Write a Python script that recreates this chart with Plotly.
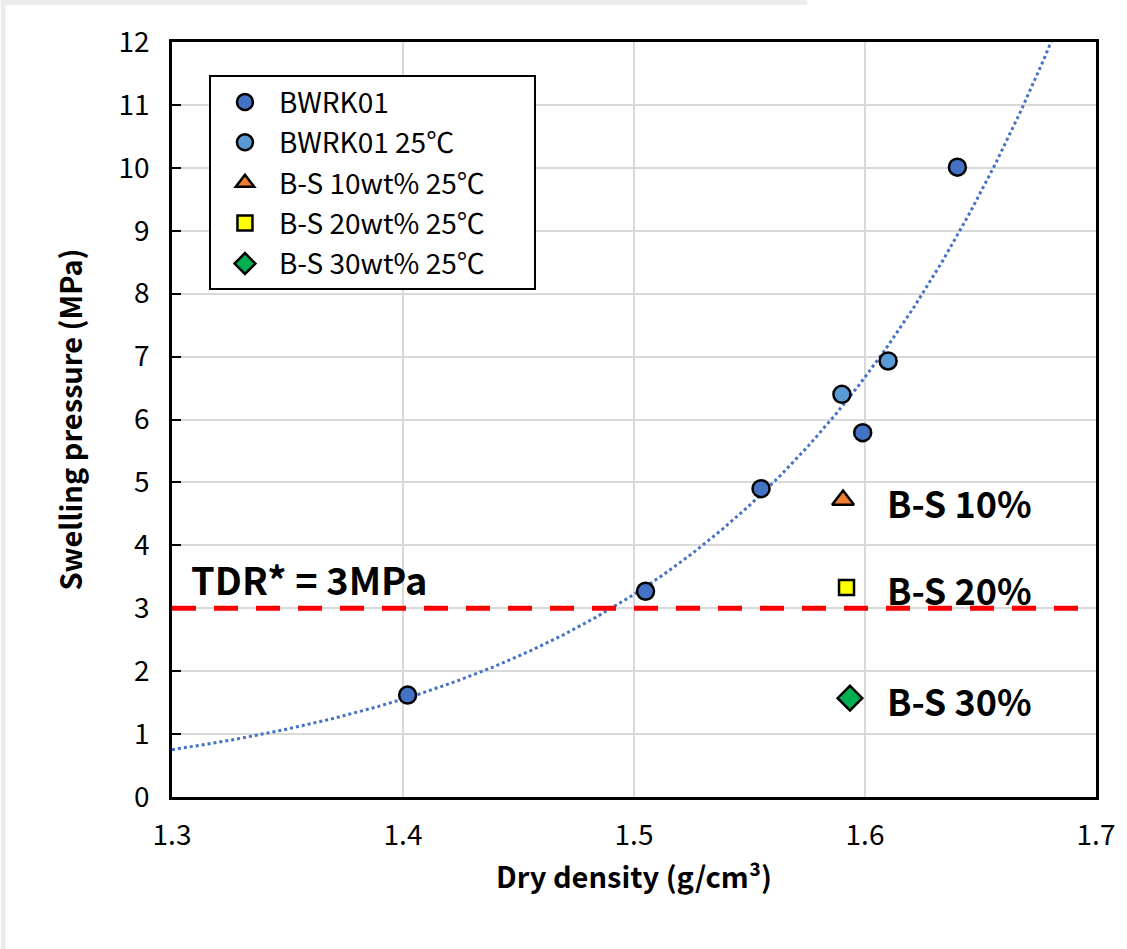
import numpy as np
import plotly.graph_objects as go

# ---- data ----
bwrk_x = [1.402, 1.505, 1.555, 1.599, 1.640]
bwrk_y = [1.62, 3.27, 4.90, 5.79, 10.01]
bwrk25_x = [1.590, 1.610]
bwrk25_y = [6.40, 6.93]
bs10_x = [1.5905]; bs10_y = [4.72]
bs20_x = [1.592]; bs20_y = [3.33]
bs30_x = [1.5935]; bs30_y = [1.57]
TDR = 3.0
xticks = [1.3, 1.4, 1.5, 1.6, 1.7]
yticks = list(range(0, 13))

# exponential trendline fitted on all BWRK01 data (as Excel does)
all_x = np.array(bwrk_x + bwrk25_x)
all_y = np.array(bwrk_y + bwrk25_y)
b, lna = np.polyfit(all_x, np.log(all_y), 1)
tx = np.linspace(1.3, 1.7, 400)
ty = np.exp(lna) * np.exp(b * tx)

FONT = "Noto Sans CJK KR"
PAD = "\u00a0" * 7
fig = go.Figure()

fig.add_trace(go.Scatter(x=tx, y=ty, mode="lines", showlegend=False,
                         line=dict(color="#4472C4", width=3, dash="dot"),
                         hoverinfo="skip"))

mk_line = dict(color="black", width=2.5)
fig.add_trace(go.Scatter(x=bwrk_x, y=bwrk_y, mode="markers", name="BWRK01",
                         legendgroup="a",
                         marker=dict(symbol="circle", size=17, color="#4472C4", line=mk_line)))
fig.add_trace(go.Scatter(x=bwrk25_x, y=bwrk25_y, mode="markers", name="BWRK01 25℃",
                         legendgroup="b",
                         marker=dict(symbol="circle", size=17, color="#5B9BD5", line=mk_line)))
fig.add_trace(go.Scatter(x=bs10_x, y=bs10_y, mode="markers", name="B-S 10wt% 25℃" + PAD,
                         legendgroup="c",
                         marker=dict(symbol="triangle-up", size=19, color="#ED7D31", line=mk_line)))
fig.add_trace(go.Scatter(x=bs20_x, y=bs20_y, mode="markers", name="B-S 20wt% 25℃",
                         legendgroup="d",
                         marker=dict(symbol="square", size=15, color="#FFFF00", line=mk_line)))
fig.add_trace(go.Scatter(x=bs30_x, y=bs30_y, mode="markers", name="B-S 30wt% 25℃",
                         legendgroup="e",
                         marker=dict(symbol="diamond", size=19, color="#00B050", line=mk_line)))

fig.add_hline(y=TDR, line=dict(color="#FF0000", width=5, dash="24px,18px"), layer="above")

fig.add_annotation(x=1.3075, y=TDR + 0.48, text="<b>TDR* = 3MPa</b>", showarrow=False,
                   xanchor="left", yanchor="middle",
                   font=dict(family=FONT, size=38, color="black"))
for ly, lab in [(bs10_y[0], "B-S 10%"), (bs20_y[0], "B-S 20%"), (bs30_y[0], "B-S 30%")]:
    fig.add_annotation(x=1.6086, y=ly - 0.03, text="<b>" + lab + "</b>", showarrow=False,
                       xanchor="left", yanchor="middle",
                       font=dict(family=FONT, size=36, color="black"))

# light grey page frame strips
fig.add_shape(type="rect", xref="paper", yref="paper", x0=-0.1853, x1=-0.18,
              y0=-0.2013, y1=1.0556, line=dict(width=0), fillcolor="#ececec", layer="below")
fig.add_shape(type="rect", xref="paper", yref="paper", x0=-0.1853, x1=0.6875,
              y0=1.049, y1=1.0556, line=dict(width=0), fillcolor="#ececec", layer="below")

fig.update_layout(
    width=1127, height=949,
    margin=dict(l=172, r=27, t=42, b=152),
    paper_bgcolor="white", plot_bgcolor="white",
    font=dict(family=FONT, color="black"),
    legend=dict(x=0.04, y=0.956, xanchor="left", yanchor="top",
                bgcolor="white", bordercolor="black", borderwidth=2,
                font=dict(family=FONT, size=28, color="black"),
                tracegroupgap=1, itemwidth=58),
)
fig.update_xaxes(range=[1.3, 1.7], tickvals=xticks, ticktext=[f"{v:.1f}" for v in xticks],
                 showgrid=True, gridcolor="#d9d9d9", gridwidth=2,
                 showline=True, linecolor="black", linewidth=2.5, mirror=True,
                 ticks="", zeroline=False, ticklabelstandoff=12,
                 tickfont=dict(family=FONT, size=28, color="black"),
                 title=dict(text="<b>Dry density (g/cm³)</b>", standoff=16,
                            font=dict(family=FONT, size=29, color="black")))
fig.update_yaxes(range=[0, 12], tickvals=yticks,
                 showgrid=True, gridcolor="#d9d9d9", gridwidth=2,
                 showline=True, linecolor="black", linewidth=2.5, mirror=True,
                 ticks="inside", ticklen=9, tickwidth=2, tickcolor="black",
                 zeroline=False, ticklabelstandoff=14,
                 tickfont=dict(family=FONT, size=28, color="black"),
                 title=dict(text="<b>Swelling pressure (MPa)</b>", standoff=28,
                            font=dict(family=FONT, size=29, color="black")))

fig.write_html("out.html")
